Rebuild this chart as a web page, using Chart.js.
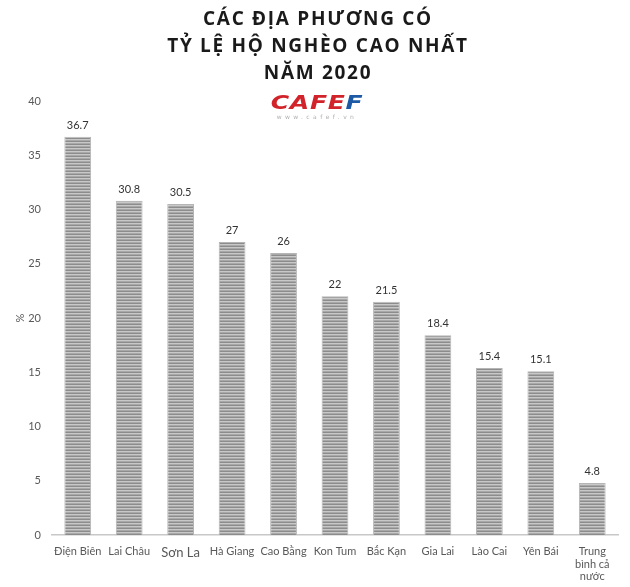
<!DOCTYPE html>
<html><head><meta charset="utf-8">
<script src="https://cdn.jsdelivr.net/npm/chart.js@4.4.1/dist/chart.umd.min.js"></script>
<style>
html,body{margin:0;padding:0;background:#fff;}
#wrap{position:relative;width:630px;height:587px;}
#title{position:absolute;left:0;top:5px;width:636px;text-align:center;font-family:"Open Sans",sans-serif;font-weight:700;font-size:19px;line-height:27px;letter-spacing:1.7px;color:#1a1a1a;z-index:2;}
#logo{position:absolute;left:252px;top:93px;width:130px;text-align:center;z-index:2;}
#logo .m{font-family:"DejaVu Sans",sans-serif;font-weight:900;font-style:italic;font-size:19px;line-height:19px;letter-spacing:0.5px;color:#d2232a;transform:scaleX(1.32);display:inline-block;}
#logo .m b{color:#1d5aa6;}
#logo .s{font-family:"DejaVu Sans",sans-serif;font-size:6px;letter-spacing:3.4px;color:#b0b0b0;line-height:8px;}
canvas{position:absolute;left:0;top:0;}
</style></head>
<body>
<div id="wrap">
<div id="title">CÁC ĐỊA PHƯƠNG CÓ<br>TỶ LỆ HỘ NGHÈO CAO NHẤT<br>NĂM 2020</div>
<div id="logo"><div class="m">CAFE<b>F</b></div><div class="s">www.cafef.vn</div></div>
<canvas id="c" width="630" height="587"></canvas>
</div>
<script>
const categories = ["Điện Biên","Lai Châu","Sơn La","Hà Giang","Cao Bằng","Kon Tum","Bắc Kạn","Gia Lai","Lào Cai","Yên Bái",["Trung","bình cả","nước"]];
const values = [36.7,30.8,30.5,27,26,22,21.5,18.4,15.4,15.1,4.8];
const valueLabels = ["36.7","30.8","30.5","27","26","22","21.5","18.4","15.4","15.1","4.8"];
const yTicks = [0,5,10,15,20,25,30,35,40];

const pc = document.createElement('canvas');
pc.width = 4; pc.height = 3;
const px = pc.getContext('2d');
const rows = ['#8c8c8c','#c8c8c8','#a8a8a8'];
rows.forEach((c,i)=>{px.fillStyle=c;px.fillRect(0,i,4,1);});
const stripe = document.getElementById('c').getContext('2d').createPattern(pc,'repeat');

const FONT = 'Lato, "Open Sans", sans-serif';

const valuePlugin = {
  id:'vals',
  afterDatasetsDraw(chart){
    const ctx = chart.ctx;
    const meta = chart.getDatasetMeta(0);
    ctx.save();
    ctx.font = '11px ' + FONT;
    ctx.fillStyle = '#333';
    ctx.textAlign = 'center';
    ctx.textBaseline = 'bottom';
    meta.data.forEach((bar,i)=>{
      ctx.fillText(valueLabels[i], bar.x, bar.y - 6);
    });
    ctx.restore();
  }
};

new Chart(document.getElementById('c'), {
  type:'bar',
  data:{labels:categories,datasets:[{data:values,backgroundColor:stripe,borderColor:'#b5b5b5',borderWidth:1,barPercentage:0.52,categoryPercentage:1}]},
  options:{
    responsive:false,animation:false,
    layout:{padding:{top:101,right:12,left:0,bottom:0}},
    plugins:{legend:{display:false},tooltip:{enabled:false}},
    scales:{
      x:{
        grid:{display:false,drawTicks:false},
        border:{display:true,color:'#c8c8c8',width:1.5},
        ticks:{color:'#595959',padding:10,maxRotation:0,autoSkip:false,
          font:(c)=>({family:FONT,size:c.index===2?13:11,lineHeight:1.15})},
        afterFit(s){s.height=52;}
      },
      y:{
        min:0,max:40,
        afterBuildTicks(s){s.ticks=yTicks.map(v=>({value:v}));},
        grid:{display:false,drawTicks:false},
        border:{display:false},
        ticks:{color:'#595959',padding:11,font:{family:FONT,size:11}},
        title:{display:true,text:'%',color:'#595959',font:{family:FONT,size:11},padding:{top:14,bottom:0}},
        afterFit(s){s.width=52;}
      }
    }
  },
  plugins:[valuePlugin]
});
</script>
</body></html>
